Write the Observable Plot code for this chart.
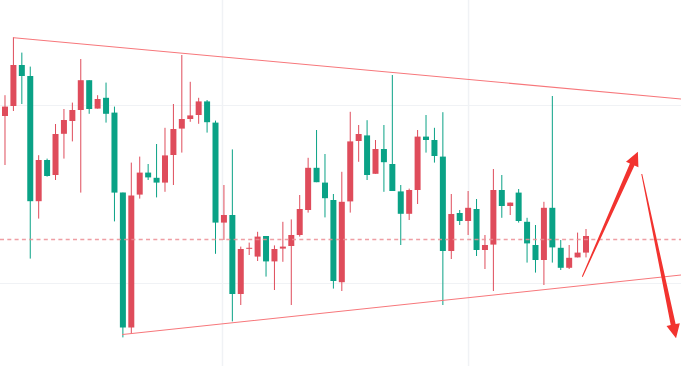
<!DOCTYPE html>
<html>
<head>
<meta charset="utf-8">
<script src="https://cdn.jsdelivr.net/npm/d3@7"></script>
<script src="https://cdn.jsdelivr.net/npm/@observablehq/plot@0.6"></script>
<style>
  html, body { margin: 0; padding: 0; background: #ffffff; }
  svg { display: block; }
</style>
</head>
<body>
<div id="chart"></div>
<script>
// ---- Candle data (price units), one entry per bar, left to right ----
const opens  = [1994.5,1999.5,2020,2014.5,1951.9,1972.5,1965,1985.6,1992,1997.5,
                2012.4,1998.2,2003.6,1996.2,1956.2,1888.8,1955.2,1966.2,1963.6,1961.2,
                1975,1988.2,1993,1995,2001.8,1991.2,1941.2,1945,1905.5,1928.1,
                1924.2,1934.5,1921.8,1928.2,1929.5,1935,1947.5,1968.6,1961.2,1952.5,
                1911.4,1951.8,1982,1984.8,1965.6,1978,1970.5,1956.8,1945.6,1957.5,
                1984.2,1982.5,1974.2,1927,1946,1942,1948,1927.5,1930.2,1957.5,
                1949.5,1956.2,1941.6,1930,1922.5,1948.6,1928.6,1918.6,1923.8,1926.2];
const highs  = [2004.9,2033.9,2026.2,2019.2,1974.9,1973.2,1990.5,1998,2001.2,2023,
                2012.4,2004.9,2011.2,1999.2,1956.2,1971.2,1974.2,1970.5,1980.5,1988.6,
                2000.5,2025,2011.6,2003.6,2002.5,1992.2,1960,1977.8,1929.2,1931.2,
                1936.6,1934.5,1929.8,1941.6,1942.8,1955,1973.6,1987.5,1975.5,1955.5,
                1966.6,1996.6,1990,1992.4,1982.5,1990,2015,1960,1958.2,1987.5,
                1995,1988.6,1996.4,1955.5,1947.5,1957,1953,1935,1968,1965,
                1951.2,1958,1943.6,1940,1951.6,2004.5,1932.5,1930,1936.2,1938];
const lows   = [1970,1997,2000.5,1923.2,1943.2,1964.2,1962.5,1973.2,1981.8,1956.2,
                1995.6,1998.2,1991.2,1941.8,1883.8,1885.5,1953.2,1962.5,1953.8,1956.6,
                1960,1976.2,1991.6,1990.6,1986.2,1925.6,1932.5,1891.8,1900,1925,
                1922,1914.2,1907.5,1921.6,1900,1934.2,1946.2,1961.4,1943.8,1908.2,
                1907,1946.2,1971.6,1962.5,1965.6,1956.6,1957,1930,1942.5,1950.5,
                1976.2,1971.2,1900,1923,1940,1935,1924.5,1918,1907,1943.6,
                1945,1941.2,1921.2,1916.2,1910,1921.2,1917.5,1918,1923.8,1923.8];
const closes = [1999.2,2020,2014.5,1951.9,1972.5,1964.5,1985.5,1992.5,1997.5,2012.4,
                1998,2003,1995.6,1956.2,1888.8,1954.8,1966.2,1963.8,1961.2,1974.8,
                1988,1993,1994.8,2001.8,1991.4,1941.2,1945,1905.5,1928,1928.6,
                1934.2,1921.8,1928,1929.2,1935,1948,1968.6,1961.4,1953.4,1912,
                1951.6,1981.8,1985.5,1965,1978,1971.4,1957,1945.6,1957.5,1984.2,
                1982.5,1974.5,1927,1945.5,1942,1948.6,1927.5,1930,1957.5,1949.5,
                1951.2,1942,1930.8,1922.5,1948.6,1928.8,1918.6,1923.6,1926.2,1934.5];

// ---- Reference levels / grid ----
const gridPrices = [2000, 1911];          // faint horizontal grid
const gridBars   = [25.83, 55.05];        // faint vertical grid (bar index)
const priceLine  = [1933];                // dashed level

// ---- Drawn trend lines (bar index, price) ----
const upperTrendBars   = [1.05, 80.35];
const upperTrendPrices = [2033.85, 2003.25];
const lowerTrendBars   = [13.95, 80.35];
const lowerTrendPrices = [1885.5, 1915.25];

// ---- Projection arrows: start bar/price -> end bar/price ----
const arrowStartBars   = [68.62, 75.68];
const arrowStartPrices = [1914.15, 1965.5];
const arrowEndBars     = [75.22, 79.75];
const arrowEndPrices   = [1976.6, 1883.35];

const candles = opens.map((o, i) => ({i, open: o, high: highs[i], low: lows[i], close: closes[i]}));
const upper = upperTrendBars.map((b, k) => ({i: b, p: upperTrendPrices[k]}));
const lower = lowerTrendBars.map((b, k) => ({i: b, p: lowerTrendPrices[k]}));

const RED = "#df4c5b", GREEN = "#0aa286";
const isUp = d => d.close >= d.open;
const isDown = d => d.close < d.open;

const chart = Plot.plot({
  width: 681,
  height: 366,
  margin: 0,
  x: {domain: [-0.534, 80.34], axis: null},
  y: {domain: [1869.5, 2052.5], axis: null},
  style: {background: "#ffffff", overflow: "visible"},
  marks: [
    Plot.ruleY(gridPrices, {stroke: "#f0f2f5", strokeWidth: 1}),
    Plot.ruleX(gridBars, {stroke: "#f0f2f5", strokeWidth: 1.5}),
    // wicks
    Plot.ruleX(candles, {filter: isUp, x: "i", y1: "low", y2: "high", stroke: RED, strokeWidth: 1}),
    Plot.ruleX(candles, {filter: isDown, x: "i", y1: "low", y2: "high", stroke: GREEN, strokeWidth: 1}),
    // bodies
    Plot.ruleX(candles, {filter: isUp, x: "i", y1: "open", y2: "close", stroke: RED, strokeWidth: 6}),
    Plot.ruleX(candles, {filter: isDown, x: "i", y1: "open", y2: "close", stroke: GREEN, strokeWidth: 6}),
    // dashed level
    Plot.ruleY(priceLine, {stroke: "#ec8d94", strokeWidth: 1.3, strokeDasharray: "4,3.3", strokeOpacity: 0.85}),
    // trend lines
    Plot.line(upper, {x: "i", y: "p", stroke: "#f7777b", strokeWidth: 1.1}),
    Plot.line(lower, {x: "i", y: "p", stroke: "#f7777b", strokeWidth: 1.1})
  ]
});

document.getElementById("chart").appendChild(chart);

// tapered arrows placed through the plot's own scales
const sx = chart.scale("x"), sy = chart.scale("y");
const svg = d3.select(chart);
arrowStartBars.forEach((b, k) => {
  const x0 = sx.apply(b), y0 = sy.apply(arrowStartPrices[k]);
  const x1 = sx.apply(arrowEndBars[k]), y1 = sy.apply(arrowEndPrices[k]);
  const L = Math.hypot(x1 - x0, y1 - y0);
  const ux = (x1 - x0) / L, uy = (y1 - y0) / L;
  const nx = -uy, ny = ux;
  const hl = 14, hw = 6.8, w0 = 1, w1 = 5;
  const bx = x1 - ux * hl, by = y1 - uy * hl;
  const pts = [
    [x0 + nx * w0 / 2, y0 + ny * w0 / 2],
    [bx + nx * w1 / 2, by + ny * w1 / 2],
    [bx + nx * hw, by + ny * hw],
    [x1, y1],
    [bx - nx * hw, by - ny * hw],
    [bx - nx * w1 / 2, by - ny * w1 / 2],
    [x0 - nx * w0 / 2, y0 - ny * w0 / 2]
  ];
  svg.append("path")
    .attr("d", "M" + pts.map(p => p.join(",")).join("L") + "Z")
    .attr("fill", "#f2332f")
    .attr("stroke", "none");
});
</script>
</body>
</html>
